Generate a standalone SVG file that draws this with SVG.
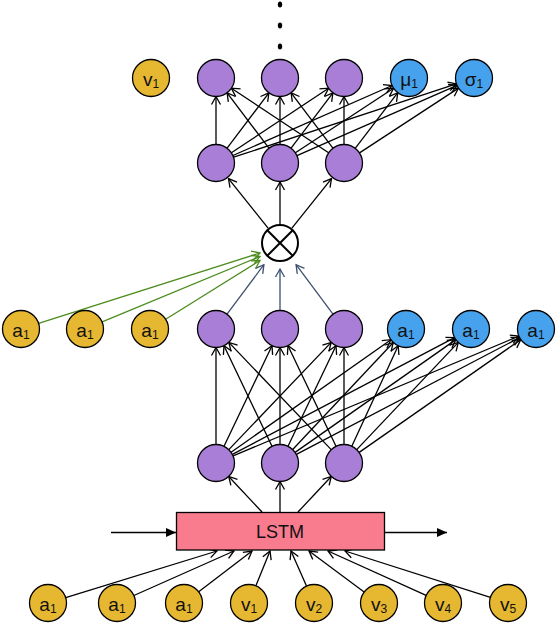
<svg xmlns="http://www.w3.org/2000/svg" width="556" height="624" viewBox="0 0 556 624">
<style>
.n{stroke:#000;stroke-width:1.3}
.y{fill:#E6B731}
.p{fill:#A97ED6}
.b{fill:#47A2EE}
.t{font-family:"Liberation Sans",Arial,Helvetica,sans-serif;font-size:19px;fill:#111;text-anchor:middle}
.s{font-size:12px}
.e{stroke:#000;stroke-width:1.3;fill:none;marker-end:url(#ah)}
.g{stroke:#4B8B1B;stroke-width:1.3;fill:none;marker-end:url(#ahg)}
.sl{stroke:#3D5070;stroke-width:1.3;fill:none;marker-end:url(#ahs)}
.f{stroke:#000;stroke-width:1.3;fill:none;marker-end:url(#fh)}
</style>
<defs>
<marker id="ah" viewBox="-10 -6 12 12" markerWidth="12" markerHeight="12" refX="0" refY="0" orient="auto" markerUnits="userSpaceOnUse"><path d="M-8,-4.5 L0,0 L-8,4.5" fill="none" stroke="#000" stroke-width="1.3"/></marker>
<marker id="ahg" viewBox="-10 -6 12 12" markerWidth="12" markerHeight="12" refX="0" refY="0" orient="auto" markerUnits="userSpaceOnUse"><path d="M-8,-4.5 L0,0 L-8,4.5" fill="none" stroke="#4B8B1B" stroke-width="1.3"/></marker>
<marker id="ahs" viewBox="-10 -6 12 12" markerWidth="12" markerHeight="12" refX="0" refY="0" orient="auto" markerUnits="userSpaceOnUse"><path d="M-8,-4.5 L0,0 L-8,4.5" fill="none" stroke="#3D5070" stroke-width="1.3"/></marker>
<marker id="fh" viewBox="-11 -6 12 12" markerWidth="12" markerHeight="12" refX="0" refY="0" orient="auto" markerUnits="userSpaceOnUse"><path d="M-10,-4.5 L0,0 L-10,4.5 Z" fill="#000"/></marker>
</defs>
<rect width="556" height="624" fill="#fff"/>

<g id="connectors">
<!-- second row to top row -->
<line class="e" x1="216" y1="144.5" x2="216" y2="96.5"/>
<line class="e" x1="227.1" y1="148.2" x2="268.9" y2="92.8"/>
<line class="e" x1="231.4" y1="152.8" x2="328.6" y2="88.2"/>
<line class="e" x1="232.9" y1="155.5" x2="392.1" y2="85.5"/>
<line class="e" x1="233.6" y1="157.2" x2="456.4" y2="83.8"/>
<line class="e" x1="268.9" y1="148.2" x2="227.1" y2="92.8"/>
<line class="e" x1="280" y1="144.5" x2="280" y2="96.5"/>
<line class="e" x1="291.1" y1="148.2" x2="332.9" y2="92.8"/>
<line class="e" x1="295.4" y1="152.8" x2="393.6" y2="88.2"/>
<line class="e" x1="296.9" y1="155.6" x2="457.1" y2="85.4"/>
<line class="e" x1="328.6" y1="152.8" x2="231.4" y2="88.2"/>
<line class="e" x1="332.9" y1="148.2" x2="291.1" y2="92.8"/>
<line class="e" x1="344" y1="144.5" x2="344" y2="96.5"/>
<line class="e" x1="355.2" y1="148.3" x2="397.8" y2="92.7"/>
<line class="e" x1="359.5" y1="152.9" x2="458.5" y2="88.1"/>
<!-- otimes to second row -->
<line class="e" x1="268.1" y1="228.2" x2="228.5" y2="178.6"/>
<line class="e" x1="280" y1="224" x2="280" y2="182"/>
<line class="e" x1="291.9" y1="228.2" x2="331.5" y2="178.6"/>
<!-- middle purple to otimes -->
<line class="sl" x1="227" y1="314.2" x2="263.9" y2="264.7"/>
<line class="sl" x1="280" y1="310.5" x2="280" y2="269"/>
<line class="sl" x1="333" y1="314.2" x2="296.1" y2="264.7"/>
<!-- yellow a to otimes -->
<line class="g" x1="38.6" y1="323.4" x2="260" y2="253"/>
<line class="g" x1="102.1" y1="321.9" x2="260" y2="256.5"/>
<line class="g" x1="165.7" y1="319.2" x2="260" y2="260.5"/>
<!-- third row to middle row -->
<line class="e" x1="216" y1="444.5" x2="216" y2="347.5"/>
<line class="e" x1="224" y1="446.3" x2="272" y2="345.7"/>
<line class="e" x1="228.8" y1="449.6" x2="331.2" y2="342.4"/>
<line class="e" x1="231.1" y1="452.3" x2="390.9" y2="339.7"/>
<line class="e" x1="232.4" y1="454.4" x2="454.6" y2="337.6"/>
<line class="e" x1="233.1" y1="455.9" x2="518.9" y2="336.1"/>
<line class="e" x1="272" y1="446.3" x2="224" y2="345.7"/>
<line class="e" x1="280" y1="444.5" x2="280" y2="347.5"/>
<line class="e" x1="288" y1="446.3" x2="336" y2="345.7"/>
<line class="e" x1="292.7" y1="449.5" x2="393.3" y2="342.5"/>
<line class="e" x1="295.1" y1="452.4" x2="455.9" y2="339.6"/>
<line class="e" x1="296.4" y1="454.4" x2="519.6" y2="337.6"/>
<line class="e" x1="331.2" y1="449.6" x2="228.8" y2="342.4"/>
<line class="e" x1="336" y1="446.3" x2="288" y2="345.7"/>
<line class="e" x1="344" y1="444.5" x2="344" y2="347.5"/>
<line class="e" x1="351.8" y1="446.2" x2="398.2" y2="345.8"/>
<line class="e" x1="356.7" y1="449.6" x2="458.3" y2="342.4"/>
<line class="e" x1="359.2" y1="452.4" x2="520.8" y2="339.6"/>
<!-- LSTM to third row -->
<line class="e" x1="262" y1="512" x2="228.7" y2="476.5"/>
<line class="e" x1="280" y1="512" x2="280" y2="481.5"/>
<line class="e" x1="298" y1="512" x2="331.3" y2="476.5"/>
<!-- bottom row to LSTM -->
<line class="e" x1="65.7" y1="597.6" x2="217" y2="551"/>
<line class="e" x1="133.9" y1="595.5" x2="234" y2="551"/>
<line class="e" x1="198.7" y1="591.8" x2="252" y2="551"/>
<line class="e" x1="255.9" y1="585.8" x2="270" y2="551"/>
<line class="e" x1="306.5" y1="586.1" x2="291" y2="551"/>
<line class="e" x1="364.1" y1="592" x2="309" y2="551"/>
<line class="e" x1="426.1" y1="595.4" x2="328" y2="551"/>
<line class="e" x1="490.4" y1="597.4" x2="345" y2="551"/>
<!-- LSTM state in/out -->
<line class="f" x1="111" y1="532.5" x2="176" y2="532.5"/>
<line class="f" x1="384" y1="532.5" x2="447" y2="532.5"/>
</g>

<g id="ellipsis">
<ellipse cx="280" cy="4.5" rx="2.2" ry="3" fill="#000"/>
<ellipse cx="280" cy="25.5" rx="2.2" ry="3" fill="#000"/>
<ellipse cx="280" cy="46.5" rx="2.2" ry="3" fill="#000"/>
</g>

<!-- top row -->
<g id="top-v1"><circle class="n y" cx="151" cy="78" r="18.5"/><text class="t" x="151" y="86">v<tspan class="s" dy="2">1</tspan></text></g>
<g id="top-p1"><circle class="n p" cx="216" cy="78" r="18.5"/></g>
<g id="top-p2"><circle class="n p" cx="280" cy="78" r="18.5"/></g>
<g id="top-p3"><circle class="n p" cx="344" cy="78" r="18.5"/></g>
<g id="top-mu"><circle class="n b" cx="409" cy="78" r="18.5"/><text class="t" x="409" y="86">μ<tspan class="s" dy="2">1</tspan></text></g>
<g id="top-sigma"><circle class="n b" cx="474" cy="78" r="18.5"/><text class="t" x="474" y="86">σ<tspan class="s" dy="2">1</tspan></text></g>

<!-- second row -->
<g id="hid2-1"><circle class="n p" cx="216" cy="163" r="18.5"/></g>
<g id="hid2-2"><circle class="n p" cx="280" cy="163" r="18.5"/></g>
<g id="hid2-3"><circle class="n p" cx="344" cy="163" r="18.5"/></g>

<!-- otimes -->
<g id="otimes">
<circle cx="280" cy="243" r="18" fill="#fff" stroke="#000" stroke-width="2"/>
<line x1="267.3" y1="230.3" x2="292.7" y2="255.7" stroke="#000" stroke-width="2"/>
<line x1="292.7" y1="230.3" x2="267.3" y2="255.7" stroke="#000" stroke-width="2"/>
</g>

<!-- middle row -->
<g id="mid-a1"><circle class="n y" cx="21" cy="329" r="18.5"/><text class="t" x="21" y="337">a<tspan class="s" dy="2">1</tspan></text></g>
<g id="mid-a2"><circle class="n y" cx="85" cy="329" r="18.5"/><text class="t" x="85" y="337">a<tspan class="s" dy="2">1</tspan></text></g>
<g id="mid-a3"><circle class="n y" cx="150" cy="329" r="18.5"/><text class="t" x="150" y="337">a<tspan class="s" dy="2">1</tspan></text></g>
<g id="mid-p1"><circle class="n p" cx="216" cy="329" r="18.5"/></g>
<g id="mid-p2"><circle class="n p" cx="280" cy="329" r="18.5"/></g>
<g id="mid-p3"><circle class="n p" cx="344" cy="329" r="18.5"/></g>
<g id="mid-b1"><circle class="n b" cx="406" cy="329" r="18.5"/><text class="t" x="406" y="337">a<tspan class="s" dy="2">1</tspan></text></g>
<g id="mid-b2"><circle class="n b" cx="471" cy="329" r="18.5"/><text class="t" x="471" y="337">a<tspan class="s" dy="2">1</tspan></text></g>
<g id="mid-b3"><circle class="n b" cx="536" cy="329" r="18.5"/><text class="t" x="536" y="337">a<tspan class="s" dy="2">1</tspan></text></g>

<!-- third row -->
<g id="hid1-1"><circle class="n p" cx="216" cy="463" r="18.5"/></g>
<g id="hid1-2"><circle class="n p" cx="280" cy="463" r="18.5"/></g>
<g id="hid1-3"><circle class="n p" cx="344" cy="463" r="18.5"/></g>

<!-- LSTM -->
<g id="lstm">
<rect x="176.5" y="512.5" width="208" height="37.5" fill="#F87B8E" stroke="#000" stroke-width="1.3"/>
<text class="t" x="280" y="538" style="font-size:18px">LSTM</text>
</g>

<!-- bottom row -->
<g id="in-a1"><circle class="n y" cx="48" cy="603" r="18.5"/><text class="t" x="48" y="611">a<tspan class="s" dy="2">1</tspan></text></g>
<g id="in-a2"><circle class="n y" cx="117" cy="603" r="18.5"/><text class="t" x="117" y="611">a<tspan class="s" dy="2">1</tspan></text></g>
<g id="in-a3"><circle class="n y" cx="184" cy="603" r="18.5"/><text class="t" x="184" y="611">a<tspan class="s" dy="2">1</tspan></text></g>
<g id="in-v1"><circle class="n y" cx="249" cy="603" r="18.5"/><text class="t" x="249" y="611">v<tspan class="s" dy="2">1</tspan></text></g>
<g id="in-v2"><circle class="n y" cx="314" cy="603" r="18.5"/><text class="t" x="314" y="611">v<tspan class="s" dy="2">2</tspan></text></g>
<g id="in-v3"><circle class="n y" cx="379" cy="603" r="18.5"/><text class="t" x="379" y="611">v<tspan class="s" dy="2">3</tspan></text></g>
<g id="in-v4"><circle class="n y" cx="443" cy="603" r="18.5"/><text class="t" x="443" y="611">v<tspan class="s" dy="2">4</tspan></text></g>
<g id="in-v5"><circle class="n y" cx="508" cy="603" r="18.5"/><text class="t" x="508" y="611">v<tspan class="s" dy="2">5</tspan></text></g>
</svg>
